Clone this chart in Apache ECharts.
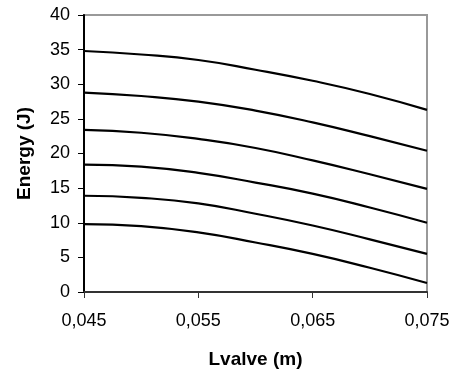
<!DOCTYPE html>
<html>
<head>
<meta charset="utf-8">
<script src="https://cdn.jsdelivr.net/npm/echarts@6/dist/echarts.min.js"></script>
<style>html,body{margin:0;padding:0;background:#fff;}#c{width:454px;height:374px;}</style>
</head>
<body>
<div id="c"></div>
<script>
const xValues = [0.045, 0.050, 0.055, 0.060, 0.065, 0.070, 0.075];
const curve1 = [34.8, 34.3, 33.5, 32.1, 30.5, 28.6, 26.3];
const curve2 = [28.8, 28.3, 27.5, 26.2, 24.5, 22.5, 20.4];
const curve3 = [23.4, 23.0, 22.1, 20.8, 19.0, 17.0, 14.9];
const curve4 = [18.4, 18.1, 17.2, 15.8, 14.2, 12.2, 10.0];
const curve5 = [13.9, 13.6, 12.8, 11.3, 9.6, 7.6, 5.5];
const curve6 = [9.8, 9.5, 8.6, 7.15, 5.5, 3.5, 1.3];
const xTicks = [0.045, 0.055, 0.065, 0.075];
const yTicks = [0, 5, 10, 15, 20, 25, 30, 35, 40];

const curves = [curve1, curve2, curve3, curve4, curve5, curve6];
const font = 'Liberation Sans, Arial, sans-serif';

const chart = echarts.init(document.getElementById('c'), null, {renderer: 'canvas'});
chart.setOption({
  animation: false,
  grid: {left: 84, right: 27, top: 15, bottom: 81, show: true, borderColor: '#999', borderWidth: 2, backgroundColor: 'transparent'},
  xAxis: {
    type: 'value',
    min: xTicks[0], max: xTicks[xTicks.length - 1],
    name: 'Lvalve (m)', nameLocation: 'middle', nameGap: 58,
    nameTextStyle: {fontFamily: font, fontSize: 19, fontWeight: 'bold', color: '#000'},
    axisLine: {show: true, lineStyle: {color: '#333', width: 2}},
    axisTick: {show: true, length: 6, lineStyle: {color: '#333', width: 1}, customValues: xTicks},
    axisLabel: {fontFamily: font, fontSize: 18, color: '#000', margin: 20, customValues: xTicks,
      formatter: v => v.toFixed(3).replace('.', ',')},
    splitLine: {show: false}
  },
  yAxis: {
    type: 'value',
    min: yTicks[0], max: yTicks[yTicks.length - 1], interval: 5,
    name: 'Energy (J)', nameLocation: 'middle', nameGap: 50,
    nameTextStyle: {fontFamily: font, fontSize: 19, fontWeight: 'bold', color: '#000'},
    axisLine: {show: true, lineStyle: {color: '#000', width: 2}},
    axisTick: {show: true, length: 6, lineStyle: {color: '#000', width: 1}},
    axisLabel: {fontFamily: font, fontSize: 18, color: '#000', margin: 14},
    splitLine: {show: false}
  },
  series: curves.map(c => ({
    type: 'line',
    data: xValues.map((x, i) => [x, c[i]]),
    smooth: true,
    symbol: 'none',
    lineStyle: {color: '#000', width: 2.2},
    clip: false
  }))
});
</script>
</body>
</html>
